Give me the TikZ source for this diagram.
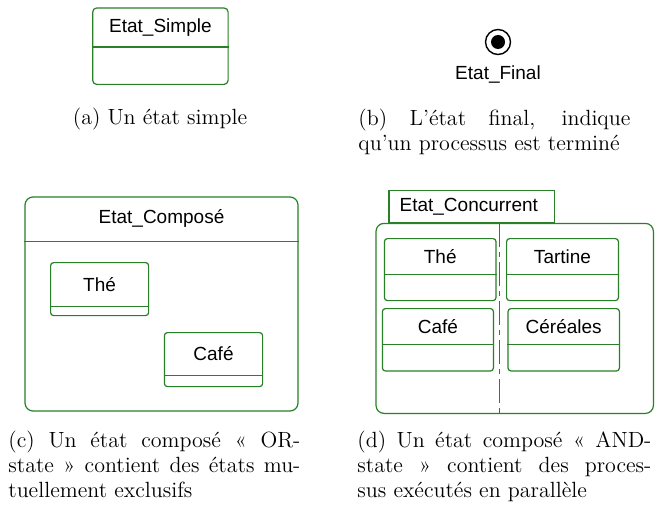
\documentclass[tikz,border=0pt]{standalone}
\usepackage{fontspec}
\newfontfamily\umlfont{Liberation Sans}
\usepackage{xcolor}
\usepackage{tikz}
\usetikzlibrary{positioning}
\definecolor{umlgreen}{RGB}{40,128,40}
\tikzstyle{state} = [rectangle, draw=umlgreen, line width=0.6pt, rounded corners=1.5pt, inner sep=0pt]
\tikzstyle{composite} = [state, rounded corners=4pt]
\tikzstyle{statename} = [inner sep=0pt, font=\umlfont\fontsize{9.5}{11}\selectfont]
\tikzstyle{sep} = [draw=umlgreen, line width=0.6pt]
\tikzstyle{region} = [sep, dash pattern=on 12pt off 2.5pt on 2.5pt off 2.5pt]
\tikzstyle{caption} = [inner sep=0pt, font=\fontsize{11}{12.5}\selectfont]

\begin{document}
\begin{tikzpicture}[x=1pt, y=-1pt, node distance=5pt]
\useasboundingbox (0,0) rectangle (331,256.5);

\node (simple) [state, rounded corners=2pt, minimum width=67.7pt, minimum height=38.2pt] at (80.2,23.1) {};
\node (simplename) [statename, minimum height=19.4pt, anchor=north] at (simple.north) {Etat\_Simple};
\draw [sep] (simple.west |- simplename.south) -- (simple.east |- simplename.south);

\node (final) [circle, draw=black, line width=0.7pt, minimum size=12.5pt, inner sep=0pt] at (249,21) {};
\node (finaldot) [circle, fill=black, minimum size=7pt, inner sep=0pt] at (final.center) {};
\node (finalname) [statename, below=of final] {Etat\_Final};

\node (capa) [caption, anchor=base] at (80,62.5) {(a) Un état simple};
\node (capb) [caption, text width=136pt, align=justify, anchor=north west] at (179,54.2) {(b) L’état final, indique\linebreak qu’un processus est terminé};

\node (comp) [composite, minimum width=136.5pt, minimum height=107pt] at (80.75,152) {};
\node (compname) [statename, minimum height=22pt, anchor=north] at (comp.north) {Etat\_Composé};
\draw [sep] (comp.west |- compname.south) -- (comp.east |- compname.south);

\node (theC) [state, minimum width=49pt, minimum height=26.5pt] at (49.8,144.55) {};
\node (theCname) [statename, minimum height=21.7pt, anchor=north] at (theC.north) {Thé};
\draw [sep] (theC.west |- theCname.south) -- (theC.east |- theCname.south);

\node (cafeC) [state, minimum width=49.1pt, minimum height=27pt] at (106.75,179.8) {};
\node (cafeCname) [statename, minimum height=21.5pt, anchor=north] at (cafeC.north) {Café};
\draw [sep] (cafeC.west |- cafeCname.south) -- (cafeC.east |- cafeCname.south);

\node (concname) [state, statename, rounded corners=0pt, inner xsep=5.3pt, text width=72.2pt, align=left, minimum height=16.2pt, anchor=south west] at (194.2,111.7) {Etat\_Concurrent};
\node (conc) [composite, minimum width=138.7pt, minimum height=95pt] at (257.35,159.2) {};
\coordinate (divtop) at (249.7,111.7);
\coordinate (divbot) at (249.7,206.7);
\draw [region] (divtop) -- (divbot);

\node (theD) [state, minimum width=55.8pt, minimum height=31pt] at (220.1,134.8) {};
\node (theDname) [statename, minimum height=18pt, anchor=north] at (theD.north) {Thé};
\draw [sep] (theD.west |- theDname.south) -- (theD.east |- theDname.south);

\node (tartine) [state, minimum width=55.9pt, minimum height=31pt] at (281.25,134.8) {};
\node (tartinename) [statename, minimum height=18pt, anchor=north] at (tartine.north) {Tartine};
\draw [sep] (tartine.west |- tartinename.south) -- (tartine.east |- tartinename.south);

\node (cafeD) [state, minimum width=55.5pt, minimum height=31.2pt] at (218.95,169.9) {};
\node (cafeDname) [statename, minimum height=17.9pt, anchor=north] at (cafeD.north) {Café};
\draw [sep] (cafeD.west |- cafeDname.south) -- (cafeD.east |- cafeDname.south);

\node (cereales) [state, minimum width=55.7pt, minimum height=31.2pt] at (281.85,169.9) {};
\node (cerealesname) [statename, minimum height=17.9pt, anchor=north] at (cereales.north) {Céréales};
\draw [sep] (cereales.west |- cerealesname.south) -- (cereales.east |- cerealesname.south);

\node (capc) [caption, text width=146pt, align=justify, anchor=north west] at (4,215.5) {(c) Un état composé «~OR-\linebreak state~» contient des états mu-\linebreak tuellement exclusifs};
\node (capd) [caption, text width=147pt, align=justify, anchor=north west] at (178.5,215.5) {(d) Un état composé «~AND-\linebreak state~» contient des proces-\linebreak sus exécutés en parallèle};

\end{tikzpicture}
\end{document}
